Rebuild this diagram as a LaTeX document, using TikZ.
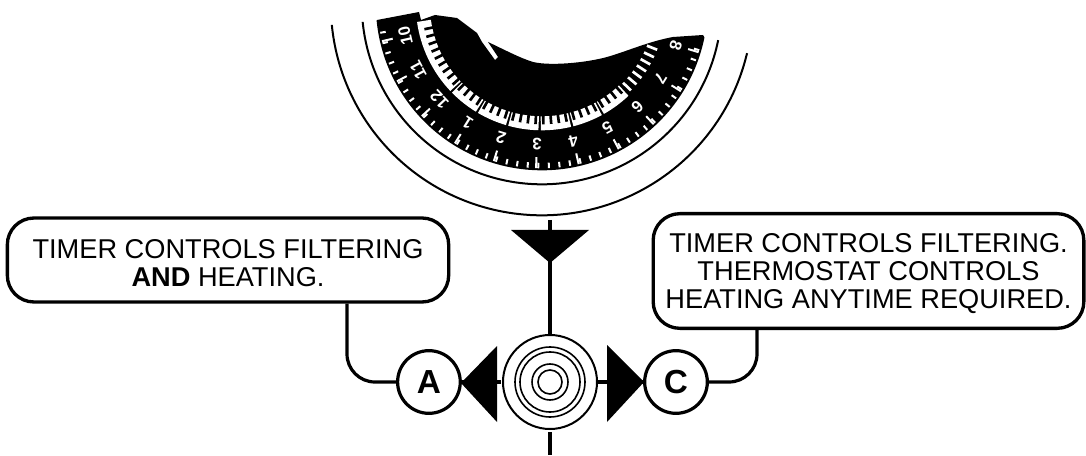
\documentclass[tikz,border=0pt]{standalone}
\usepackage{fontspec}
\setmainfont{Liberation Sans}
\usepackage{tikz}
\usetikzlibrary{calc}

\newcommand{\pushdown}{\rule{0pt}{18.5pt}}

\begin{document}
\begin{tikzpicture}[
        x=0.75pt, y=-0.75pt,
        node distance=92pt,
        message/.style={rectangle, draw, line width=2.5pt, rounded corners=20pt, align=center, font={\fontsize{20.4}{21}\selectfont}, inner sep=0pt},
        letter/.style={circle, draw, line width=2.4pt, minimum size=47pt, inner sep=0pt, font={\fontsize{25}{26}\selectfont\bfseries}},
        ring/.style={circle, draw, inner sep=0pt, line width=1.2pt},
        hour/.style={text=white, inner sep=0pt, font={\fontsize{12.5}{13}\selectfont\bfseries}},
        link/.style={line width=2.4pt},
        rim/.style={line width=1.5pt}
    ]
        \useasboundingbox (0,0) rectangle (1086,456);
        \coordinate (dialc) at (541.8,4.3);

        % Dial face
        \fill (377,20) -- (419,12) -- (421,20) -- (435,15) -- (457,18) -- (477,33) -- (482,42) -- (495,60) -- (498,57) -- (488,42)
            .. controls (505,50) and (520,58) .. (533,62)
            .. controls (550,66) and (585,63) .. (607,57)
            .. controls (625,52) and (650,41) .. (673,37)
            -- (703,35) -- ($(dialc)+(11.5:166)$) arc[start angle=11.5, end angle=174.4, radius=166] -- cycle;

        % Rims
        \draw[rim] ($(dialc)+(13.4:211)$) arc[start angle=13.4, end angle=174.4, radius=211];
        \draw[rim] ($(dialc)+(11.5:180)$) arc[start angle=11.5, end angle=174.4, radius=180];

        % Minute scale
        \draw[white, line width=10.5pt] ($(dialc)+(172:119)$) arc[start angle=172, end angle=136.5, radius=119];
        \foreach \a in {135.5,120.5,105.5,90.5,75.5,60.5}
            \draw[white, line width=10.5pt] ($(dialc)+(\a:119)$) arc[start angle=\a, end angle=\a-14, radius=119];
        \foreach \a in {44,40.25,...,20}
            \draw[white, line width=2pt] ($(dialc)+(\a:113)$) -- ($(dialc)+(\a:124)$);
        \foreach \a in {48,51.75,...,171}
            \draw[line width=2pt] ($(dialc)+(\a:111)$) -- ($(dialc)+(\a:120)$);

        % Outer ticks and hours
        \foreach \a in {170,166.25,...,14}
            \draw[white, line width=1.5pt] ($(dialc)+(\a:158.5)$) -- ($(dialc)+(\a:164)$);
        \foreach \a in {167,152,...,17}
            \draw[white, line width=1.5pt] ($(dialc)+(\a:153)$) -- ($(dialc)+(\a:164)$);
        \foreach \h [count=\i from 0] in {10,11,12,1,2,3,4,5,6,7,8}
            \node (hour\h) [hour, rotate={-(167-15*\i)-90}] at ($(dialc)+({167-15*\i}:140)$) {\h};

        % Target and letters
        \node (target) [ring, minimum size=70.5pt, line width=1.5pt] at (550,382) {};
        \node (targetb) [ring, minimum size=52.5pt] at (target) {};
        \node (targetc) [ring, minimum size=45pt] at (target) {};
        \node (targetd) [ring, minimum size=27pt] at (target) {};
        \node (targete) [ring, minimum size=18pt] at (target) {};
        \node (circA) [letter, left of=target, xshift=1.2pt] {A};
        \node (circC) [letter, right of=target, xshift=2.5pt] {C};

        % Messages
        \node (boxA) [message, minimum width=331pt, minimum height=63pt] at (228,260) {\pushdown TIMER CONTROLS FILTERING\\ \textbf{AND} HEATING.};
        \node (boxC) [message, minimum width=323pt, minimum height=86pt] at (868.5,271) {\pushdown TIMER CONTROLS FILTERING.\\ THERMOSTAT CONTROLS\\ HEATING ANYTIME REQUIRED.};

        % Paths to the letters
        \coordinate (stemA) at (347,302);
        \coordinate (stemC) at (757,328);
        \draw[link, rounded corners=21pt] (stemA |- boxA.south) |- (circA.west);
        \draw[link, rounded corners=21pt] (stemC |- boxC.south) |- (circC.east);

        % Pointers
        \coordinate (topend) at (550,220);
        \coordinate (botend) at (550,455);
        \fill (511,230) -- (589,230) -- (550,263) -- cycle;
        \fill (497,346) -- (497,422) -- (461,383) -- cycle;
        \fill (607,345) -- (607,422) -- (644,382) -- cycle;
        \draw[line width=3.4pt] (topend) -- (target.north);
        \draw[link] (target.west) ++(-1,0) -- (circA.east);
        \draw[link] (target.east) -- (circC.west);
        \draw[line width=3.4pt] (550,432) -- (botend);
    \end{tikzpicture}
\end{document}
